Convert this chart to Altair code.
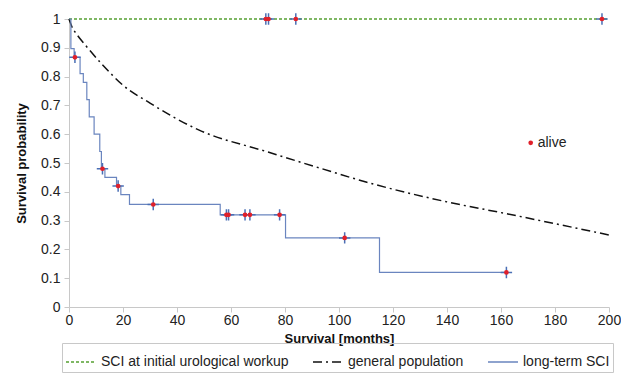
import altair as alt
import pandas as pd

# ---- data ----
series_names = ["SCI at initial urological workup", "general population", "long-term SCI"]

# long-term SCI Kaplan-Meier steps (months, survival)
km_t = [0, 0.7, 1.9, 4.1, 5.3, 6.6, 7.5, 9.3, 11.4, 12.0, 13.3, 17.6, 19.2, 22.4, 56, 80.2, 115, 162]
km_s = [1.0, 0.897, 0.867, 0.81, 0.78, 0.72, 0.66, 0.60, 0.54, 0.48, 0.45, 0.42, 0.39, 0.356, 0.32, 0.24, 0.12, 0.12]
km_cens_t = [2.2, 12.4, 18.2, 31.2, 58.3, 59.1, 65.2, 67.0, 78.0, 102.1, 162]
km_cens_s = [0.867, 0.48, 0.42, 0.356, 0.32, 0.32, 0.32, 0.32, 0.32, 0.24, 0.12]

# SCI at initial urological workup
init_t = [0, 200]
init_s = [1.0, 1.0]
init_cens_t = [72.9, 73.9, 84.0, 197.4]
init_cens_s = [1.0, 1.0, 1.0, 1.0]

# general population
gen_t = [0, 1, 3, 6, 13, 20, 30, 48, 73, 93, 110, 140, 162, 200]
gen_s = [1.0, 0.975, 0.945, 0.91, 0.835, 0.77, 0.708, 0.615, 0.54, 0.482, 0.434, 0.365, 0.324, 0.25]

alive_x = [171]
alive_y = [0.57]
alive_label = ["alive"]

x_ticks = list(range(0, 201, 20))
y_ticks = [i / 10 for i in range(11)]

colors = ["#55a032", "#111111", "#6a85bf"]
dashes = [[3, 2], [9, 4, 2, 4], [1, 0]]

rows = []
for t, s in zip(init_t, init_s):
    rows.append({"t": t, "s": s, "series": series_names[0], "ord": 0})
for t, s in zip(gen_t, gen_s):
    rows.append({"t": t, "s": s, "series": series_names[1], "ord": 1})
for t, s in zip(km_t, km_s):
    rows.append({"t": t, "s": s, "series": series_names[2], "ord": 2})
lines_df = pd.DataFrame(rows)

cens_df = pd.DataFrame({
    "t": km_cens_t + init_cens_t,
    "s": km_cens_s + init_cens_s,
})
alive_df = pd.DataFrame({"t": alive_x, "s": alive_y, "label": alive_label})

xs = alt.Scale(domain=[0, 200], nice=False)
ys = alt.Scale(domain=[0, 1], nice=False)

x_axis = alt.Axis(values=x_ticks, title="Survival [months]", grid=False, labelPadding=1,
                  titlePadding=5, labelFlush=False)
y_axis = alt.Axis(values=y_ticks, title="Survival probability", grid=False, format="~g",
                  labelPadding=4, titlePadding=12, labelOverlap=False, labelFlush=False)

X = alt.X("t:Q", scale=xs, axis=x_axis)
Y = alt.Y("s:Q", scale=ys, axis=y_axis)

leg = alt.Legend(title=None, orient="none", legendX=-7, legendY=324, direction="horizontal",
                 symbolType="stroke", symbolSize=900,
                 symbolStrokeWidth=1.6, labelFontSize=14,
                 labelColor="#222", strokeColor="#c8c8c8",
                 padding=3, columnPadding=20,
                 labelLimit=400)
color_enc = alt.Color("series:N", scale=alt.Scale(domain=series_names, range=colors), legend=leg)
dash_enc = alt.StrokeDash("series:N", scale=alt.Scale(domain=series_names, range=dashes), legend=leg)

base = alt.Chart(lines_df)
init_line = base.transform_filter(alt.datum.ord == 0).mark_line(strokeWidth=1.3).encode(
    x=X, y=Y, color=color_enc, strokeDash=dash_enc,
)
gen_line = base.transform_filter(alt.datum.ord == 1).mark_line(
    interpolate="monotone", strokeWidth=1.5
).encode(x=X, y=Y, color=color_enc, strokeDash=dash_enc)
km_line = base.transform_filter(alt.datum.ord == 2).mark_line(
    interpolate="step-after", strokeWidth=1.2
).encode(x=X, y=Y, color=color_enc, strokeDash=dash_enc)

cens = alt.Chart(cens_df)
cross = cens.mark_point(shape="M-1,0L1,0M0,-1L0,1", stroke="#4a6fb5", strokeWidth=1.5,
                        size=130, filled=False, opacity=1).encode(x=X, y=Y)
dot = cens.mark_circle(color="#e0202a", size=22, opacity=1).encode(x=X, y=Y)

alive_dot = alt.Chart(alive_df).mark_circle(color="#e0202a", size=22, opacity=1).encode(x=X, y=Y)
alive_text = alt.Chart(alive_df).mark_text(align="left", baseline="middle", dx=7,
                                           fontSize=14, color="#222").encode(
    x=X, y=Y, text="label:N")

chart = alt.layer(init_line, gen_line, km_line, cross, dot, alive_dot, alive_text).properties(
    width=540, height=288
).configure_axis(
    domainColor="#c8c8c8", tickColor="#c8c8c8", tickSize=5, labelFontSize=14,
    labelColor="#222", titleFontSize=13, titleFontWeight="bold", titleColor="#111",
    labelFont="Liberation Sans", titleFont="Liberation Sans"
).configure_legend(labelFont="Liberation Sans").configure_text(font="Liberation Sans").configure_view(
    stroke=None
).properties(padding={"left": 7, "top": 2, "right": 0, "bottom": 0})

chart.save("out.html", embed_options={"renderer": "svg", "actions": False})
